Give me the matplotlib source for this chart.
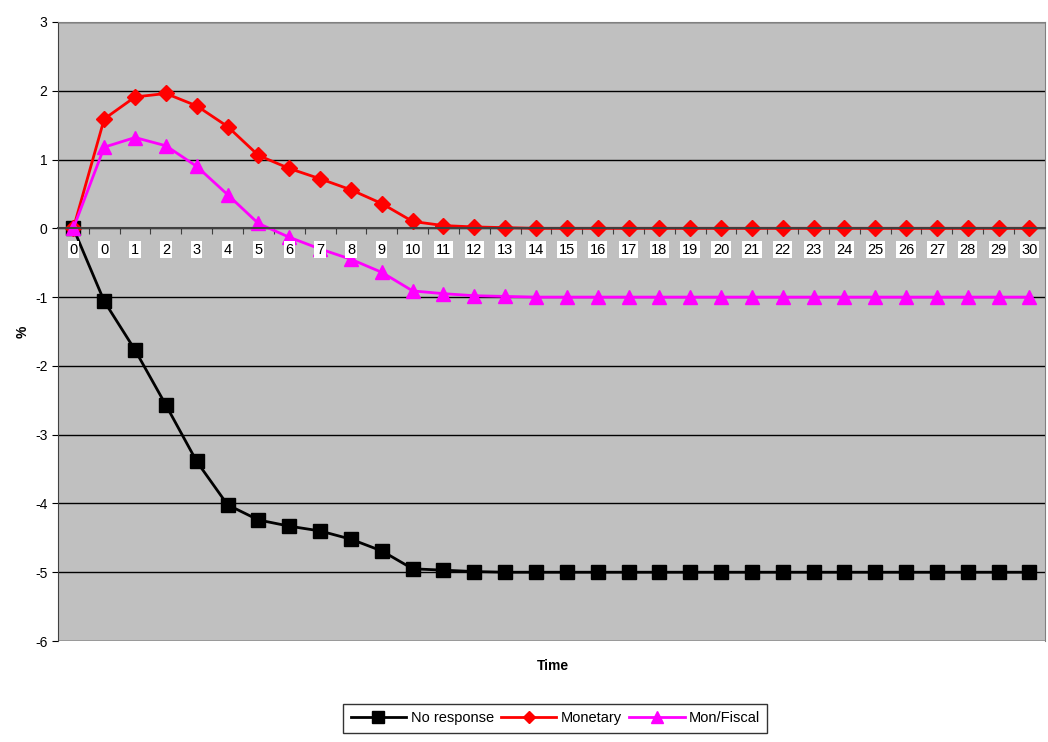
import numpy as np
import matplotlib.pyplot as plt

plt.rcParams["font.family"] = ["Liberation Sans", "DejaVu Sans"]
plt.rcParams["axes.unicode_minus"] = False

# x categories as shown on the axis (note the repeated 0)
time_labels = ["0", "0"] + [str(i) for i in range(1, 31)]

no_response = [0, -1.06, -1.77, -2.57, -3.39, -4.02, -4.24, -4.33, -4.40, -4.52, -4.69,
               -4.95, -4.97, -4.99, -5.0, -5.0, -5.0, -5.0, -5.0, -5.0, -5.0, -5.0,
               -5.0, -5.0, -5.0, -5.0, -5.0, -5.0, -5.0, -5.0, -5.0, -5.0]
monetary = [0, 1.59, 1.91, 1.96, 1.78, 1.48, 1.06, 0.87, 0.72, 0.56, 0.36,
            0.10, 0.04, 0.02, 0.01, 0.0, 0.0, 0.0, 0.0, 0.0, 0.0, 0.0,
            0.0, 0.0, 0.0, 0.0, 0.0, 0.0, 0.0, 0.0, 0.0, 0.0]
mon_fiscal = [0, 1.18, 1.32, 1.20, 0.90, 0.49, 0.07, -0.13, -0.30, -0.45, -0.64,
              -0.91, -0.95, -0.98, -0.99, -1.0, -1.0, -1.0, -1.0, -1.0, -1.0, -1.0,
              -1.0, -1.0, -1.0, -1.0, -1.0, -1.0, -1.0, -1.0, -1.0, -1.0]

x = np.arange(len(time_labels))

fig = plt.figure(figsize=(10.48, 7.42), dpi=100)
ax = fig.add_axes([0.0553, 0.1361, 0.9417, 0.8343])
ax.set_facecolor("#c0c0c0")

ax.plot(x, no_response, color="black", lw=2, marker="s", ms=10, label="No response")
ax.plot(x, monetary, color="red", lw=2, marker="D", ms=8, label="Monetary")
ax.plot(x, mon_fiscal, color="magenta", lw=2, marker="^", ms=10, label="Mon/Fiscal")

ax.set_ylim(-6, 3)
ax.set_xlim(-0.5, len(x) - 0.5)
ax.set_yticks(range(-6, 4))
ax.tick_params(axis="y", labelsize=10, direction="out", length=4)
ax.yaxis.grid(True, color="black", lw=1)
ax.set_axisbelow(True)

# category axis crossing at zero, ticks between categories
ax.spines["bottom"].set_position(("data", 0))
ax.spines["bottom"].set_color("#404040")
ax.spines["bottom"].set_linewidth(1.5)
for s in ["top", "right"]:
    ax.spines[s].set_color("#808080")
ax.spines["left"].set_color("#404040")
ax.set_xticks(x[:-1] + 0.5)
ax.set_xticklabels([])
ax.tick_params(axis="x", direction="out", length=4, color="#404040")
for xi, lab in zip(x, time_labels):
    ax.text(xi, -0.31, lab, ha="center", va="center", fontsize=10.5,
            bbox=dict(facecolor="white", edgecolor="none", pad=1.2), zorder=5)

ax.set_ylabel("%", fontsize=10, fontweight="bold")
fig.text(0.528, 0.102, "Time", ha="center", va="center", fontsize=10, fontweight="bold")

leg = fig.legend(loc="center", bbox_to_anchor=(0.53, 0.032), ncol=3, fontsize=10.5,
                 frameon=True, fancybox=False, edgecolor="black", handlelength=3.8,
                 handletextpad=0.3, columnspacing=0.5, borderpad=0.5, markerscale=0.8)
leg.get_frame().set_linewidth(1)

fig.savefig("out.png", dpi=100)
